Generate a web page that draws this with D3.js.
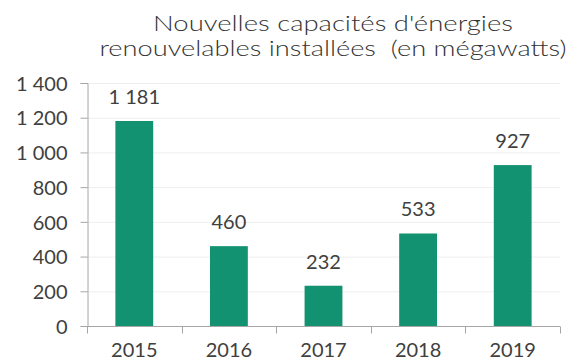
<!DOCTYPE html>
<html>
<head>
<meta charset="utf-8">
<script src="https://cdn.jsdelivr.net/npm/d3@7"></script>
<style>
  html, body { margin: 0; padding: 0; background: #ffffff; }
  svg { display: block; }
  text { font-family: Lato, "Noto Sans", sans-serif; fill: #404040; font-weight: 400; }
  text.title { font-weight: 300; fill: #333333; }
</style>
</head>
<body>
<script>
// Data
const years = ["2015", "2016", "2017", "2018", "2019"];
const capacities = [1181, 460, 232, 533, 927];
const yTicks = [0, 200, 400, 600, 800, 1000, 1200, 1400];
const titleLines = ["Nouvelles capacités d'énergies", "renouvelables installées  (en mégawatts)"];

const W = 582, H = 361;
const plot = { left: 87, right: 560, top: 83, bottom: 326 };
const barColor = "#129270";
const axisColor = "#a6a6a6";
const gridColor = "#eeeeee";

// French number format: space as thousands separator
const fr = d3.formatLocale({ decimal: ",", thousands: "\u00a0", grouping: [3], currency: ["", " €"] });
const fmt = fr.format(",d");

const svg = d3.select("body").append("svg")
  .attr("width", W).attr("height", H);

const x = d3.scaleBand()
  .domain(years)
  .range([plot.left, plot.right])
  .paddingInner(0.6)
  .paddingOuter(0.3);

const y = d3.scaleLinear()
  .domain([0, 1400])
  .range([plot.bottom, plot.top]);

// Horizontal gridlines
svg.append("g")
  .selectAll("line")
  .data(yTicks.filter(d => d > 0))
  .join("line")
  .attr("x1", plot.left).attr("x2", plot.right)
  .attr("y1", d => y(d) + 0.5).attr("y2", d => y(d) + 0.5)
  .attr("stroke", gridColor).attr("stroke-width", 1);

// Bars
svg.append("g")
  .selectAll("rect")
  .data(years.map((yr, i) => ({ yr, v: capacities[i] })))
  .join("rect")
  .attr("x", d => x(d.yr))
  .attr("width", x.bandwidth())
  .attr("y", d => y(d.v))
  .attr("height", d => y(0) - y(d.v))
  .attr("fill", barColor);

// Value labels above bars
svg.append("g")
  .selectAll("text")
  .data(years.map((yr, i) => ({ yr, v: capacities[i] })))
  .join("text")
  .attr("x", d => x(d.yr) + x.bandwidth() / 2)
  .attr("y", d => y(d.v) - 17)
  .attr("text-anchor", "middle")
  .style("font-size", "20px")
  .text(d => fmt(d.v));

// Y axis
const yAxis = svg.append("g")
  .attr("transform", `translate(${plot.left + 0.5},0)`)
  .call(d3.axisLeft(y).tickValues(yTicks).tickFormat(fmt).tickSize(7).tickPadding(13));
yAxis.select(".domain").attr("stroke", axisColor);
yAxis.selectAll(".tick line").attr("stroke", axisColor);
yAxis.selectAll(".tick text")
  .style("font-size", "20px")
  .style("font-family", "Lato, 'Noto Sans', sans-serif")
  .attr("fill", "#404040")
  .attr("dy", "0.36em");

// X axis: ticks on band boundaries
const xAxis = svg.append("g")
  .attr("transform", `translate(0,${plot.bottom + 0.5})`);
xAxis.append("line")
  .attr("x1", plot.left).attr("x2", plot.right)
  .attr("stroke", axisColor);
const boundaries = years.map(yr => x(yr) - x.step() * x.paddingInner() / 2)
  .concat([plot.right]);
xAxis.selectAll("line.tick")
  .data(boundaries)
  .join("line")
  .attr("class", "tick")
  .attr("x1", d => Math.round(d) + 0.5).attr("x2", d => Math.round(d) + 0.5)
  .attr("y1", 0).attr("y2", 7)
  .attr("stroke", axisColor);
xAxis.selectAll("text")
  .data(years)
  .join("text")
  .attr("x", d => x(d) + x.bandwidth() / 2)
  .attr("y", 30)
  .attr("text-anchor", "middle")
  .style("font-size", "20px")
  .text(d => d);

// Title (two lines)
const titleWidths = [360, 467];
svg.append("g")
  .selectAll("text")
  .data(titleLines)
  .join("text")
  .attr("class", "title")
  .attr("x", 333)
  .attr("y", (d, i) => 31 + i * 25)
  .attr("text-anchor", "middle")
  .attr("xml:space", "preserve")
  .style("white-space", "pre")
  .style("font-size", "22px")
  .attr("textLength", (d, i) => titleWidths[i])
  .attr("lengthAdjust", "spacingAndGlyphs")
  .text(d => d);
</script>
</body>
</html>
